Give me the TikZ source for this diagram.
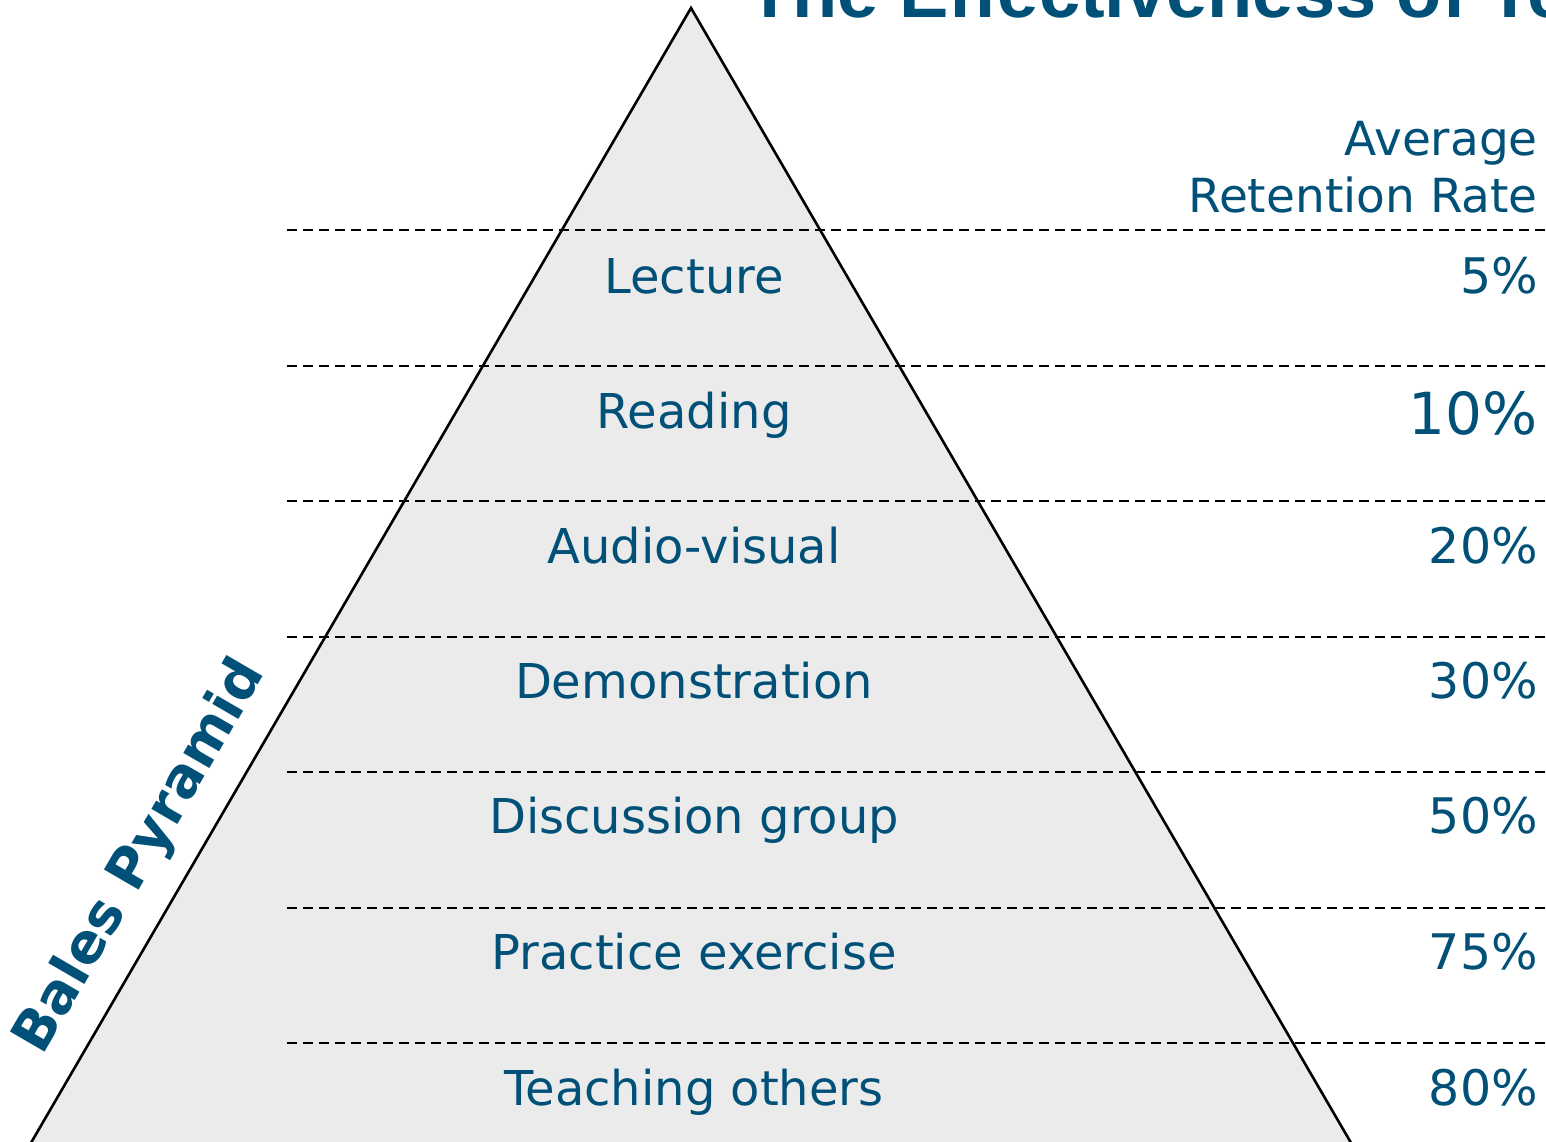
\documentclass[tikz,border=0pt]{standalone}
\usepackage{fontspec}
\setmainfont{DejaVu Sans}
\newfontfamily\titlefont{Liberation Sans}
\definecolor{txt}{HTML}{005078}
\definecolor{pyr}{HTML}{EBEBEB}
\tikzset{
  dashline/.style={line width=2.1pt, dash pattern=on 10pt off 6pt},
  lbl/.style={anchor=base, inner sep=0pt, text=txt, font=\fontsize{48}{56}\selectfont},
  pct/.style={anchor=base east, inner sep=0pt, text=txt, font=\fontsize{49}{56}\selectfont},
  hdr/.style={anchor=base east, inner sep=0pt, text=txt, font=\fontsize{47}{54}\selectfont},
}
\begin{document}
\begin{tikzpicture}[x=1pt,y=-1pt]
\useasboundingbox (0,0) rectangle (1546,1141);
\clip (0,0) rectangle (1546,1141);
% pyramid
\draw[fill=pyr, line width=2.6pt] (691,8) -- (21,1160) -- (1361,1160) -- cycle;
% dashed separators
\foreach \yy in {230,366,501,637,772,908,1043}
  \draw[dashline] (287,\yy) -- (1546,\yy);
% title (cut off at the top)
\node[anchor=base west, inner sep=0pt, text=txt, font=\titlefont\bfseries\fontsize{74}{80}\selectfont] (title) at (747,17) {The Effectiveness of Te};
% header
\node[hdr] (avg) at (1538,155) {Average};
\node[hdr] (ret) at (1538,212) {Retention Rate};
% levels
\node[lbl] (l1) at (694,293) {Lecture};
\node[lbl] (l2) at (694,428) {Reading};
\node[lbl] (l3) at (694,563) {Audio-visual};
\node[lbl] (l4) at (694,698) {Demonstration};
\node[lbl] (l5) at (694,833) {Discussion group};
\node[lbl] (l6) at (694,969) {Practice exercise};
\node[lbl] (l7) at (694,1105) {Teaching others};
% percentages
\node[pct] (p1) at (1538,293) {5\%};
\node[pct, font=\fontsize{58}{62}\selectfont] (p2) at (1538,434) {10\%};
\node[pct] (p3) at (1538,563) {20\%};
\node[pct] (p4) at (1538,698) {30\%};
\node[pct] (p5) at (1538,833) {50\%};
\node[pct] (p6) at (1538,969) {75\%};
\node[pct] (p7) at (1538,1105) {80\%};
% side label
\node[rotate=59.8, inner sep=0pt, text=txt, font=\bfseries\fontsize{55}{60}\selectfont] (bales) at (141,857) {Bales Pyramid};
\end{tikzpicture}
\end{document}
